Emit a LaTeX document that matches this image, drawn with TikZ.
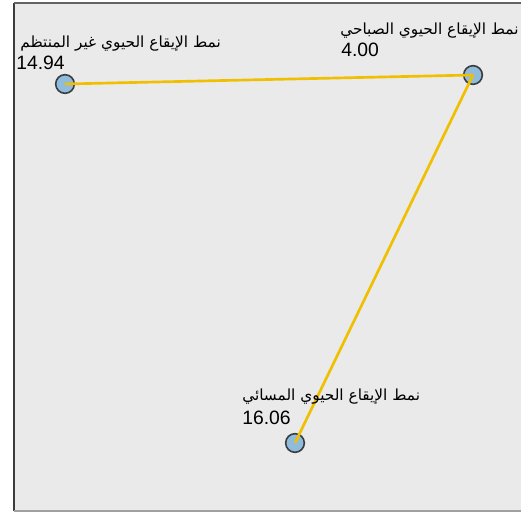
\documentclass[tikz,border=0pt]{standalone}
\usepackage{fontspec}
\setmainfont{Liberation Sans}
\newfontfamily\arabicfont[Script=Arabic]{DejaVu Sans}
\TeXXeTstate=1
\usepackage{xcolor}
\usetikzlibrary{positioning}
\definecolor{panelgray}{RGB}{234,234,234}
\definecolor{linegold}{RGB}{240,192,0}
\definecolor{dotblue}{RGB}{143,188,220}
\definecolor{framedark}{RGB}{60,60,60}
\definecolor{framelight}{RGB}{160,160,160}

\tikzset{
  pt/.style={circle, draw=framedark, line width=1.2pt, fill=dotblue, minimum size=14pt, inner sep=0pt},
  link/.style={linegold, line width=2pt},
  arlabel/.style={anchor=south west, inner sep=0pt, font=\arabicfont\fontsize{11.5}{13}\selectfont},
  numlabel/.style={anchor=south west, inner sep=0pt, font=\fontsize{14.5}{15}\selectfont}
}

\begin{document}
\begin{tikzpicture}[x=0.75pt, y=-0.75pt]
  \useasboundingbox (0,0) rectangle (521,513);
  \fill[panelgray] (14,3) rectangle (521,511);
  \begin{scope}
    \clip (14,3) rectangle (521,511);
    % points
    \node[pt] (irreg) at (65,84) {};
    \node[pt] (morning) at (473,75) {};
    \node[pt] (evening) at (295,443) {};
    % connectors
    \draw[link] (irreg.center) -- (morning.center);
    \draw[link] (morning.center) -- (evening.center);
    % labels
    \node[arlabel, anchor=south east] (irregtxt) at (221,52) {\beginR نمط الإيقاع الحيوي غير المنتظم\endR};
    \node[numlabel] (irregnum) at (16,70) {14.94};
    \node[arlabel] (morningtxt) at (340,39) {\beginR نمط الإيقاع الحيوي الصباحي\endR};
    \node[numlabel] (morningnum) at (341,57) {4.00};
    \node[arlabel] (eveningtxt) at (242,405) {\beginR نمط الإيقاع الحيوي المسائي\endR};
    \node[numlabel] (eveningnum) at (242,425) {16.06};
  \end{scope}
  \draw[framedark, line width=1.5pt] (14,3) -- (14,511);
  \draw[framedark!80, line width=0.8pt] (14,3) -- (521,3);
  \draw[framelight, line width=1.5pt] (14,511) -- (521,511);
\end{tikzpicture}
\end{document}
